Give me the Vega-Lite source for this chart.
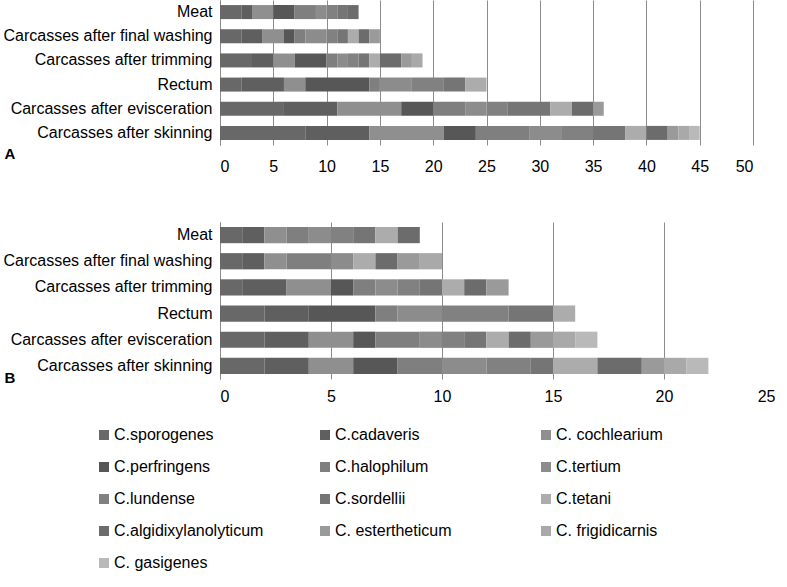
{
  "$schema": "https://vega.github.io/schema/vega-lite/v6.json",
  "padding": {"left": 3, "top": 0, "right": 0, "bottom": 0},
  "background": "white",
  "config": {
    "font": "Liberation Sans",
    "view": {"stroke": null},
    "axis": {"labelFont": "Liberation Sans", "labelFontSize": 16, "labelColor": "#000000"}
  },
  "datasets": {
    "a": [
      {"sample": "Meat", "species": "C.sporogenes", "ord": 1, "count": 2},
      {"sample": "Meat", "species": "C.cadaveris", "ord": 2, "count": 1},
      {"sample": "Meat", "species": "C. cochlearium", "ord": 3, "count": 2},
      {"sample": "Meat", "species": "C.perfringens", "ord": 4, "count": 2},
      {"sample": "Meat", "species": "C.halophilum", "ord": 5, "count": 2},
      {"sample": "Meat", "species": "C.tertium", "ord": 6, "count": 1},
      {"sample": "Meat", "species": "C.lundense", "ord": 7, "count": 1},
      {"sample": "Meat", "species": "C.sordellii", "ord": 8, "count": 1},
      {"sample": "Meat", "species": "C.algidixylanolyticum", "ord": 10, "count": 1},
      {"sample": "Carcasses after final washing", "species": "C.sporogenes", "ord": 1, "count": 2},
      {"sample": "Carcasses after final washing", "species": "C.cadaveris", "ord": 2, "count": 2},
      {"sample": "Carcasses after final washing", "species": "C. cochlearium", "ord": 3, "count": 2},
      {"sample": "Carcasses after final washing", "species": "C.perfringens", "ord": 4, "count": 1},
      {"sample": "Carcasses after final washing", "species": "C.halophilum", "ord": 5, "count": 1},
      {"sample": "Carcasses after final washing", "species": "C.tertium", "ord": 6, "count": 2},
      {"sample": "Carcasses after final washing", "species": "C.lundense", "ord": 7, "count": 1},
      {"sample": "Carcasses after final washing", "species": "C.sordellii", "ord": 8, "count": 1},
      {"sample": "Carcasses after final washing", "species": "C.tetani", "ord": 9, "count": 1},
      {"sample": "Carcasses after final washing", "species": "C.algidixylanolyticum", "ord": 10, "count": 1},
      {"sample": "Carcasses after final washing", "species": "C. estertheticum", "ord": 11, "count": 1},
      {"sample": "Carcasses after trimming", "species": "C.sporogenes", "ord": 1, "count": 3},
      {"sample": "Carcasses after trimming", "species": "C.cadaveris", "ord": 2, "count": 2},
      {"sample": "Carcasses after trimming", "species": "C. cochlearium", "ord": 3, "count": 2},
      {"sample": "Carcasses after trimming", "species": "C.perfringens", "ord": 4, "count": 3},
      {"sample": "Carcasses after trimming", "species": "C.halophilum", "ord": 5, "count": 1},
      {"sample": "Carcasses after trimming", "species": "C.tertium", "ord": 6, "count": 1},
      {"sample": "Carcasses after trimming", "species": "C.lundense", "ord": 7, "count": 1},
      {"sample": "Carcasses after trimming", "species": "C.sordellii", "ord": 8, "count": 1},
      {"sample": "Carcasses after trimming", "species": "C.tetani", "ord": 9, "count": 1},
      {"sample": "Carcasses after trimming", "species": "C.algidixylanolyticum", "ord": 10, "count": 2},
      {"sample": "Carcasses after trimming", "species": "C. estertheticum", "ord": 11, "count": 1},
      {"sample": "Carcasses after trimming", "species": "C. frigidicarnis", "ord": 12, "count": 1},
      {"sample": "Rectum", "species": "C.sporogenes", "ord": 1, "count": 2},
      {"sample": "Rectum", "species": "C.cadaveris", "ord": 2, "count": 4},
      {"sample": "Rectum", "species": "C. cochlearium", "ord": 3, "count": 2},
      {"sample": "Rectum", "species": "C.perfringens", "ord": 4, "count": 6},
      {"sample": "Rectum", "species": "C.halophilum", "ord": 5, "count": 1},
      {"sample": "Rectum", "species": "C.tertium", "ord": 6, "count": 3},
      {"sample": "Rectum", "species": "C.lundense", "ord": 7, "count": 3},
      {"sample": "Rectum", "species": "C.sordellii", "ord": 8, "count": 2},
      {"sample": "Rectum", "species": "C.tetani", "ord": 9, "count": 2},
      {"sample": "Carcasses after evisceration", "species": "C.sporogenes", "ord": 1, "count": 6},
      {"sample": "Carcasses after evisceration", "species": "C.cadaveris", "ord": 2, "count": 5},
      {"sample": "Carcasses after evisceration", "species": "C. cochlearium", "ord": 3, "count": 6},
      {"sample": "Carcasses after evisceration", "species": "C.perfringens", "ord": 4, "count": 3},
      {"sample": "Carcasses after evisceration", "species": "C.halophilum", "ord": 5, "count": 3},
      {"sample": "Carcasses after evisceration", "species": "C.tertium", "ord": 6, "count": 2},
      {"sample": "Carcasses after evisceration", "species": "C.lundense", "ord": 7, "count": 2},
      {"sample": "Carcasses after evisceration", "species": "C.sordellii", "ord": 8, "count": 4},
      {"sample": "Carcasses after evisceration", "species": "C.tetani", "ord": 9, "count": 2},
      {"sample": "Carcasses after evisceration", "species": "C.algidixylanolyticum", "ord": 10, "count": 2},
      {"sample": "Carcasses after evisceration", "species": "C. estertheticum", "ord": 11, "count": 1},
      {"sample": "Carcasses after skinning", "species": "C.sporogenes", "ord": 1, "count": 8},
      {"sample": "Carcasses after skinning", "species": "C.cadaveris", "ord": 2, "count": 6},
      {"sample": "Carcasses after skinning", "species": "C. cochlearium", "ord": 3, "count": 7},
      {"sample": "Carcasses after skinning", "species": "C.perfringens", "ord": 4, "count": 3},
      {"sample": "Carcasses after skinning", "species": "C.halophilum", "ord": 5, "count": 5},
      {"sample": "Carcasses after skinning", "species": "C.tertium", "ord": 6, "count": 3},
      {"sample": "Carcasses after skinning", "species": "C.lundense", "ord": 7, "count": 3},
      {"sample": "Carcasses after skinning", "species": "C.sordellii", "ord": 8, "count": 3},
      {"sample": "Carcasses after skinning", "species": "C.tetani", "ord": 9, "count": 2},
      {"sample": "Carcasses after skinning", "species": "C.algidixylanolyticum", "ord": 10, "count": 2},
      {"sample": "Carcasses after skinning", "species": "C. estertheticum", "ord": 11, "count": 1},
      {"sample": "Carcasses after skinning", "species": "C. frigidicarnis", "ord": 12, "count": 1},
      {"sample": "Carcasses after skinning", "species": "C. gasigenes", "ord": 13, "count": 1}
    ],
    "b": [
      {"sample": "Meat", "species": "C.sporogenes", "ord": 1, "count": 1},
      {"sample": "Meat", "species": "C.cadaveris", "ord": 2, "count": 1},
      {"sample": "Meat", "species": "C. cochlearium", "ord": 3, "count": 1},
      {"sample": "Meat", "species": "C.halophilum", "ord": 5, "count": 1},
      {"sample": "Meat", "species": "C.tertium", "ord": 6, "count": 1},
      {"sample": "Meat", "species": "C.lundense", "ord": 7, "count": 1},
      {"sample": "Meat", "species": "C.sordellii", "ord": 8, "count": 1},
      {"sample": "Meat", "species": "C.tetani", "ord": 9, "count": 1},
      {"sample": "Meat", "species": "C.algidixylanolyticum", "ord": 10, "count": 1},
      {"sample": "Carcasses after final washing", "species": "C.sporogenes", "ord": 1, "count": 1},
      {"sample": "Carcasses after final washing", "species": "C.cadaveris", "ord": 2, "count": 1},
      {"sample": "Carcasses after final washing", "species": "C. cochlearium", "ord": 3, "count": 1},
      {"sample": "Carcasses after final washing", "species": "C.halophilum", "ord": 5, "count": 2},
      {"sample": "Carcasses after final washing", "species": "C.tertium", "ord": 6, "count": 1},
      {"sample": "Carcasses after final washing", "species": "C.tetani", "ord": 9, "count": 1},
      {"sample": "Carcasses after final washing", "species": "C.algidixylanolyticum", "ord": 10, "count": 1},
      {"sample": "Carcasses after final washing", "species": "C. estertheticum", "ord": 11, "count": 1},
      {"sample": "Carcasses after final washing", "species": "C. frigidicarnis", "ord": 12, "count": 1},
      {"sample": "Carcasses after trimming", "species": "C.sporogenes", "ord": 1, "count": 1},
      {"sample": "Carcasses after trimming", "species": "C.cadaveris", "ord": 2, "count": 2},
      {"sample": "Carcasses after trimming", "species": "C. cochlearium", "ord": 3, "count": 2},
      {"sample": "Carcasses after trimming", "species": "C.perfringens", "ord": 4, "count": 1},
      {"sample": "Carcasses after trimming", "species": "C.halophilum", "ord": 5, "count": 1},
      {"sample": "Carcasses after trimming", "species": "C.tertium", "ord": 6, "count": 1},
      {"sample": "Carcasses after trimming", "species": "C.lundense", "ord": 7, "count": 1},
      {"sample": "Carcasses after trimming", "species": "C.sordellii", "ord": 8, "count": 1},
      {"sample": "Carcasses after trimming", "species": "C.tetani", "ord": 9, "count": 1},
      {"sample": "Carcasses after trimming", "species": "C.algidixylanolyticum", "ord": 10, "count": 1},
      {"sample": "Carcasses after trimming", "species": "C. estertheticum", "ord": 11, "count": 1},
      {"sample": "Rectum", "species": "C.sporogenes", "ord": 1, "count": 2},
      {"sample": "Rectum", "species": "C.cadaveris", "ord": 2, "count": 2},
      {"sample": "Rectum", "species": "C.perfringens", "ord": 4, "count": 3},
      {"sample": "Rectum", "species": "C.halophilum", "ord": 5, "count": 1},
      {"sample": "Rectum", "species": "C.tertium", "ord": 6, "count": 2},
      {"sample": "Rectum", "species": "C.lundense", "ord": 7, "count": 3},
      {"sample": "Rectum", "species": "C.sordellii", "ord": 8, "count": 2},
      {"sample": "Rectum", "species": "C.tetani", "ord": 9, "count": 1},
      {"sample": "Carcasses after evisceration", "species": "C.sporogenes", "ord": 1, "count": 2},
      {"sample": "Carcasses after evisceration", "species": "C.cadaveris", "ord": 2, "count": 2},
      {"sample": "Carcasses after evisceration", "species": "C. cochlearium", "ord": 3, "count": 2},
      {"sample": "Carcasses after evisceration", "species": "C.perfringens", "ord": 4, "count": 1},
      {"sample": "Carcasses after evisceration", "species": "C.halophilum", "ord": 5, "count": 2},
      {"sample": "Carcasses after evisceration", "species": "C.tertium", "ord": 6, "count": 1},
      {"sample": "Carcasses after evisceration", "species": "C.lundense", "ord": 7, "count": 1},
      {"sample": "Carcasses after evisceration", "species": "C.sordellii", "ord": 8, "count": 1},
      {"sample": "Carcasses after evisceration", "species": "C.tetani", "ord": 9, "count": 1},
      {"sample": "Carcasses after evisceration", "species": "C.algidixylanolyticum", "ord": 10, "count": 1},
      {"sample": "Carcasses after evisceration", "species": "C. estertheticum", "ord": 11, "count": 1},
      {"sample": "Carcasses after evisceration", "species": "C. frigidicarnis", "ord": 12, "count": 1},
      {"sample": "Carcasses after evisceration", "species": "C. gasigenes", "ord": 13, "count": 1},
      {"sample": "Carcasses after skinning", "species": "C.sporogenes", "ord": 1, "count": 2},
      {"sample": "Carcasses after skinning", "species": "C.cadaveris", "ord": 2, "count": 2},
      {"sample": "Carcasses after skinning", "species": "C. cochlearium", "ord": 3, "count": 2},
      {"sample": "Carcasses after skinning", "species": "C.perfringens", "ord": 4, "count": 2},
      {"sample": "Carcasses after skinning", "species": "C.halophilum", "ord": 5, "count": 2},
      {"sample": "Carcasses after skinning", "species": "C.tertium", "ord": 6, "count": 2},
      {"sample": "Carcasses after skinning", "species": "C.lundense", "ord": 7, "count": 2},
      {"sample": "Carcasses after skinning", "species": "C.sordellii", "ord": 8, "count": 1},
      {"sample": "Carcasses after skinning", "species": "C.tetani", "ord": 9, "count": 2},
      {"sample": "Carcasses after skinning", "species": "C.algidixylanolyticum", "ord": 10, "count": 2},
      {"sample": "Carcasses after skinning", "species": "C. estertheticum", "ord": 11, "count": 1},
      {"sample": "Carcasses after skinning", "species": "C. frigidicarnis", "ord": 12, "count": 1},
      {"sample": "Carcasses after skinning", "species": "C. gasigenes", "ord": 13, "count": 1}
    ]
  },
  "spacing": 48,
  "vconcat": [
    {
      "data": {"name": "a"},
      "width": 533,
      "height": 145,
      "mark": {"type": "bar"},
      "encoding": {
        "y": {
          "field": "sample", "type": "nominal",
          "sort": ["Meat", "Carcasses after final washing", "Carcasses after trimming", "Rectum", "Carcasses after evisceration", "Carcasses after skinning"],
          "scale": {"paddingInner": 0.42, "paddingOuter": 0.21},
          "axis": {"title": "A", "titleAngle": 0, "titleAlign": "left", "titleBaseline": "top", "titleX": -216, "titleY": 146, "titleFontSize": 15, "titleFontWeight": "bold", "titleFont": "Liberation Sans", "titleColor": "#000000", "domainColor": "#8c8c8c", "ticks": false, "labelPadding": 8, "labelLimit": 260}
        },
        "x": {
          "field": "count", "type": "quantitative", "stack": "zero",
          "scale": {"domain": [0, 50], "nice": false},
          "axis": {"title": null, "values": [0, 5, 10, 15, 20, 25, 30, 35, 40, 45, 50], "grid": true, "gridColor": "#8c8c8c", "domain": false, "ticks": false, "labelPadding": 13}
        },
        "color": {
          "field": "species", "type": "nominal",
          "scale": {
            "domain": ["C.sporogenes", "C.cadaveris", "C. cochlearium", "C.perfringens", "C.halophilum", "C.tertium", "C.lundense", "C.sordellii", "C.tetani", "C.algidixylanolyticum", "C. estertheticum", "C. frigidicarnis", "C. gasigenes"],
            "range": ["#686868", "#5f5f5f", "#8f8f8f", "#575757", "#7f7f7f", "#8c8c8c", "#818181", "#757575", "#acacac", "#6c6c6c", "#9a9a9a", "#a9a9a9", "#b9b9b9"]
          },
          "legend": {"title": null, "orient": "none", "direction": "horizontal", "legendX": -124, "legendY": 427, "columns": 3, "gridAlign": "all", "columnPadding": 53, "rowPadding": 16, "symbolType": "square", "symbolSize": 100, "symbolStrokeWidth": 0, "labelOffset": 2, "labelFontSize": 16, "labelFont": "Liberation Sans", "labelColor": "#000000", "labelLimit": 300}
        },
        "order": {"field": "ord", "type": "quantitative"}
      }
    },
    {
      "data": {"name": "b"},
      "width": 555,
      "height": 157,
      "mark": {"type": "bar"},
      "encoding": {
        "y": {
          "field": "sample", "type": "nominal",
          "sort": ["Meat", "Carcasses after final washing", "Carcasses after trimming", "Rectum", "Carcasses after evisceration", "Carcasses after skinning"],
          "scale": {"paddingInner": 0.38, "paddingOuter": 0.19},
          "axis": {"title": "B", "titleAngle": 0, "titleAlign": "left", "titleBaseline": "top", "titleX": -216, "titleY": 148, "titleFontSize": 15, "titleFontWeight": "bold", "titleFont": "Liberation Sans", "titleColor": "#000000", "domainColor": "#8c8c8c", "ticks": false, "labelPadding": 8, "labelLimit": 260}
        },
        "x": {
          "field": "count", "type": "quantitative", "stack": "zero",
          "scale": {"domain": [0, 25], "nice": false},
          "axis": {"title": null, "values": [0, 5, 10, 15, 20, 25], "grid": true, "gridColor": "#8c8c8c", "domain": false, "ticks": false, "labelPadding": 9}
        },
        "color": {"field": "species", "type": "nominal"},
        "order": {"field": "ord", "type": "quantitative"}
      }
    }
  ]
}
